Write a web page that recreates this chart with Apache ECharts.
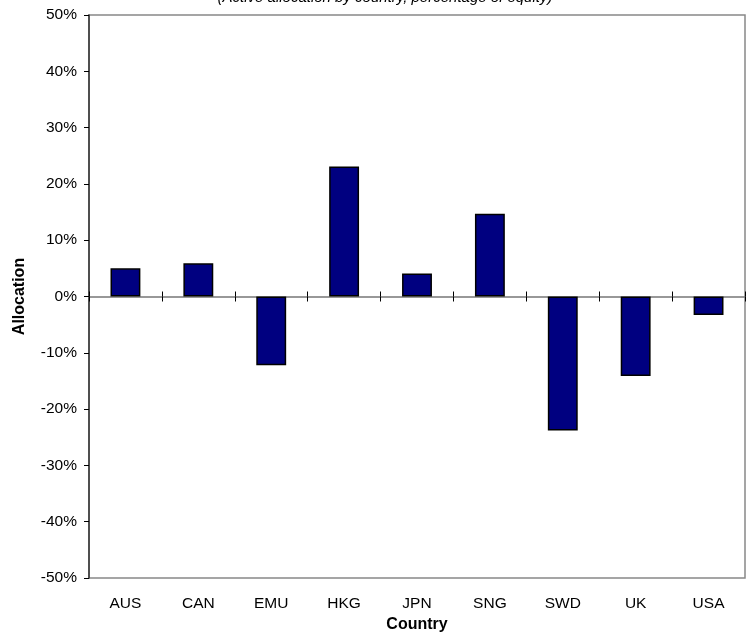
<!DOCTYPE html>
<html>
<head>
<meta charset="utf-8">
<script src="https://cdn.jsdelivr.net/npm/echarts@6/dist/echarts.min.js"></script>
<style>html,body{margin:0;padding:0;background:#fff}#c{width:749px;height:638px}</style>
</head>
<body>
<div id="c"></div>
<script>
var categories = ['AUS', 'CAN', 'EMU', 'HKG', 'JPN', 'SNG', 'SWD', 'UK', 'USA'];
var allocation = [5.0, 5.9, -12.2, 23.1, 4.1, 14.7, -23.8, -14.1, -3.3];
var subtitleText = '(Active allocation by country, percentage of equity)';

var chart = echarts.init(document.getElementById('c'));
var font = 'Arial, "Liberation Sans", sans-serif';
chart.setOption({
  animation: false,
  title: {
    text: subtitleText,
    left: 380, top: -15, textAlign: 'center',
    textStyle: { fontFamily: font, fontStyle: 'italic', fontWeight: 'normal', fontSize: 15, color: '#000' }
  },
  grid: { left: 89, top: 15, right: 4, bottom: 60, outerBoundsMode: 'none', containLabel: false,
    show: true, borderColor: '#888', borderWidth: 1.5, backgroundColor: '#fff' },
  xAxis: [
    {
      type: 'category', data: categories, position: 'bottom',
      axisLine: { onZero: false, show: false },
      axisTick: { show: false },
      axisLabel: { fontFamily: font, fontSize: 15.5, color: '#000', margin: 18 },
      name: 'Country', nameLocation: 'middle', nameGap: 35,
      nameTextStyle: { fontFamily: font, fontSize: 16, fontWeight: 'bold', color: '#000' }
    },
    {
      type: 'category', data: categories, position: 'bottom',
      axisLine: { onZero: true, onZeroAxisIndex: 0, lineStyle: { color: '#777', width: 1.5 } },
      axisTick: { show: true, inside: false, length: 5, lineStyle: { color: '#000', width: 1 } },
      axisLabel: { show: false }
    },
    {
      type: 'category', data: categories, position: 'bottom',
      axisLine: { onZero: true, onZeroAxisIndex: 1, show: false },
      axisTick: { show: true, inside: true, length: 5, lineStyle: { color: '#000', width: 1 } },
      axisLabel: { show: false }
    }
  ],
  yAxis: [
    {
      type: 'value', min: -50, max: 50, interval: 10,
      axisLine: { show: true, lineStyle: { color: '#333', width: 1.5 } },
      axisTick: { show: true, inside: false, length: 5, lineStyle: { color: '#000' } },
      splitLine: { show: false },
      axisLabel: { formatter: '{value}%', fontFamily: font, fontSize: 15.5, color: '#000', margin: 12 },
      name: 'Allocation', nameLocation: 'middle', nameGap: 61,
      nameTextStyle: { fontFamily: font, fontSize: 16, fontWeight: 'bold', color: '#000' }
    },
    {
      type: 'value', min: -50, max: 50, interval: 10, position: 'left',
      axisLine: { show: false }, axisTick: { show: false }, axisLabel: { show: false }, splitLine: { show: false }
    }
  ],
  series: [{
    type: 'bar', data: allocation, xAxisIndex: 1, yAxisIndex: 0, barWidth: '41%',
    itemStyle: { color: '#000080', borderColor: '#000', borderWidth: 1.5 },
    z: 1
  }]
});
</script>
</body>
</html>
